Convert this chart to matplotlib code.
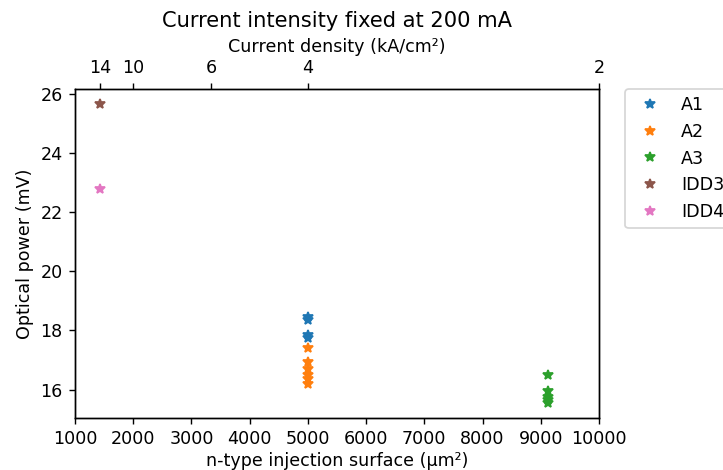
import matplotlib
matplotlib.use("Agg")
import matplotlib.pyplot as plt

# Data: n-type injection surface (µm²) and optical power (mV)
a1_x = [5000, 5000, 5000, 5000]
a1_y = [18.45, 18.35, 17.85, 17.75]
a2_x = [5000, 5000, 5000, 5000, 5000, 5000]
a2_y = [17.4, 16.95, 16.7, 16.5, 16.35, 16.2]
a3_x = [9130, 9130, 9130, 9130, 9130]
a3_y = [16.5, 15.95, 15.75, 15.65, 15.55]
idd3_x = [1428.6]
idd3_y = [25.65]
idd4_x = [1428.6]
idd4_y = [22.78]

density_ticks = [14, 10, 6, 4, 2]  # kA/cm² at 200 mA
current_mA = 200

dpi = 126
fig = plt.figure(figsize=(723 / dpi, 470 / dpi), dpi=dpi)
ax = fig.add_axes([75 / 723, 1 - 418 / 470, (599 - 75) / 723, (418 - 89) / 470])

ax.plot(a1_x, a1_y, '*', color='C0', label='A1')
ax.plot(a2_x, a2_y, '*', color='C1', label='A2')
ax.plot(a3_x, a3_y, '*', color='C2', label='A3')
ax.plot(idd3_x, idd3_y, '*', color='C5', label='IDD3')
ax.plot(idd4_x, idd4_y, '*', color='C6', label='IDD4')

ax.set_xlim(1000, 10000)
ax.set_xticks(range(1000, 10001, 1000))
ax.set_yticks([16, 18, 20, 22, 24, 26])
ax.set_xlabel('n-type injection surface (µm²)', labelpad=2)
ax.set_ylabel('Optical power (mV)')
ax.legend(bbox_to_anchor=(1.05, 1), loc='upper left', borderaxespad=0.)

ax2 = ax.twiny()
ax2.set_xlim(ax.get_xlim())
# surface (µm²) = I / J  -> 200 mA / (J kA/cm²) = 2e4/J µm²
ax2.set_xticks([current_mA * 100 / j for j in density_ticks])
ax2.set_xticklabels([str(j) for j in density_ticks])
ax2.set_xlabel('Current density (kA/cm²)')
ax2.set_title('Current intensity fixed at 200 mA')

fig.savefig('out.png', dpi=dpi)
